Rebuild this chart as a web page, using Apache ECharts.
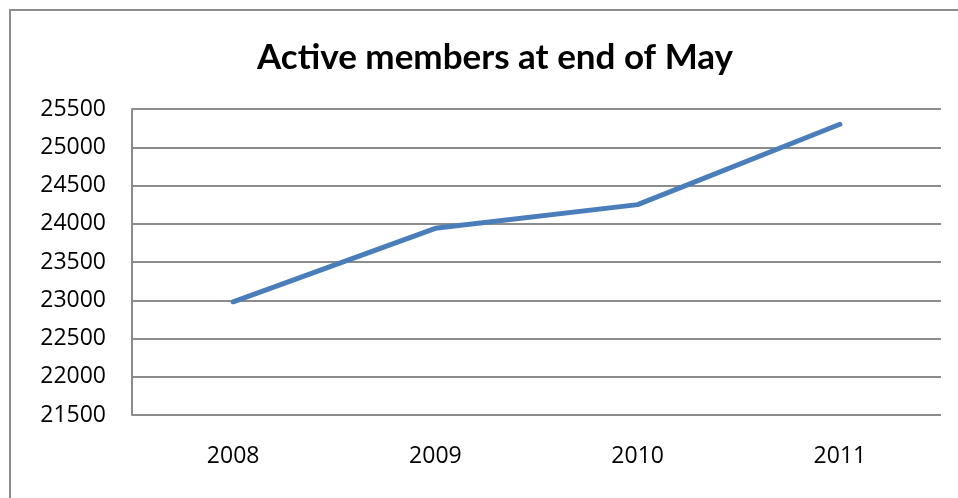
<!DOCTYPE html>
<html><head><meta charset="utf-8">
<script src="https://cdn.jsdelivr.net/npm/echarts@6/dist/echarts.min.js"></script>
<style>html,body{margin:0;padding:0;background:#fff}#c{width:958px;height:498px}</style>
</head><body><div id="c"></div>
<script>
const title = 'Active members at end of May';
const categories = ['2008', '2009', '2010', '2011'];
const members = [22980, 23940, 24250, 25300];
const yMin = 21500, yMax = 25500, yStep = 500;

const chart = echarts.init(document.getElementById('c'));
chart.setOption({
  backgroundColor: '#fff',
  animation: false,
  graphic: [{
    type: 'rect', shape: {x: 10, y: 10, width: 1000, height: 600},
    style: {fill: 'none', stroke: '#8c8c8c', lineWidth: 2}, silent: true
  }],
  title: {
    text: title, left: 252, top: 35,
    textStyle: {fontFamily: 'Lato', fontWeight: 'bold', fontSize: 35, color: '#000'}
  },
  grid: {left: 132, right: 17, top: 109, bottom: 83, containLabel: false},
  xAxis: {
    type: 'category', data: categories, boundaryGap: true,
    axisLine: {show: false}, axisTick: {show: false},
    axisLabel: {color: '#000', fontFamily: 'Open Sans', fontSize: 23, margin: 30}
  },
  yAxis: {
    type: 'value', min: yMin, max: yMax, interval: yStep,
    axisLine: {show: true, lineStyle: {color: '#8c8c8c', width: 2}},
    axisTick: {show: false},
    splitLine: {lineStyle: {color: '#8c8c8c', width: 2}},
    axisLabel: {color: '#000', fontFamily: 'Open Sans', fontSize: 23, margin: 26,
      formatter: v => String(v)}
  },
  series: [{
    type: 'line', data: members, symbol: 'none',
    lineStyle: {color: '#4a7ebb', width: 5, cap: 'round', join: 'round'}
  }]
});
</script></body></html>
